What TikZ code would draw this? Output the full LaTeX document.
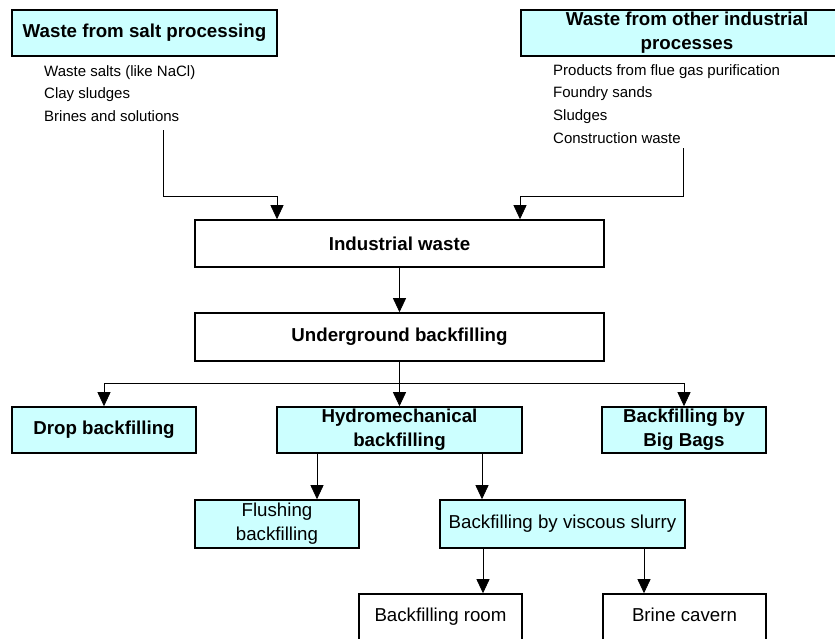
\documentclass[tikz,border=0pt]{standalone}
\usepackage{fontspec}
\setmainfont{Liberation Sans}
\usetikzlibrary{arrows.meta}

\definecolor{bleuclair}{HTML}{CCFFFF}

\begin{document}
\begin{tikzpicture}  % ------ Remblayage des déchets industriels -------
      [x=1pt, y=-1pt,
       boite/.style={draw, line width=1.6pt, inner sep=0pt, align=center,
                     font=\fontsize{18.7}{24}\selectfont},
       bleue/.style={boite, fill=bleuclair},
       gras/.style={font=\fontsize{18.7}{24}\selectfont\bfseries},
       liste/.style={anchor=north west, inner sep=0pt, align=left,
                     font=\fontsize{15}{22.7}\selectfont},
       fleche/.style={line width=.8pt, -{Triangle[width=13pt,length=14pt]}}]
    \clip (0,0) rectangle (835,638);

    % sources des déchets
    \node[bleue, gras, minimum width=265pt, minimum height=46pt] (sel) at (144.5,33) {Waste from salt processing};
    \node[bleue, gras, minimum width=332pt, minimum height=46pt] (autres) at (687,33) {Waste from other industrial\\processes};
    \node[liste] (lsel) at (44,65) {Waste salts (like NaCl)\\Clay sludges\\Brines and solutions};
    \node[liste] (lautres) at (553,64) {Products from flue gas purification\\Foundry sands\\Sludges\\Construction waste};

    % boites du schéma
    \node[boite, gras, minimum width=409pt, minimum height=47pt] (indus) at (399.5,243.5) {Industrial waste};
    \node[boite, gras, minimum width=409pt, minimum height=48pt] (souter) at (399.5,337) {Underground backfilling};
    \node[bleue, gras, minimum width=184pt, minimum height=46pt] (chute) at (104,430) {Drop backfilling};
    \node[bleue, gras, minimum width=245pt, minimum height=46pt] (hydro) at (399.5,430) {Hydromechanical\\backfilling};
    \node[bleue, gras, minimum width=164pt, minimum height=46pt] (sacs) at (684,430) {Backfilling by\\Big Bags};
    \node[bleue, minimum width=164pt, minimum height=48pt] (rincage) at (277,524) {Flushing\\backfilling};
    \node[bleue, minimum width=245pt, minimum height=48pt] (pateux) at (562.5,524) {Backfilling by viscous slurry};
    \node[boite, minimum width=163pt, minimum height=46pt, text height=13.5pt, text depth=4pt] (chambre) at (440.5,617) {Backfilling room};
    \node[boite, minimum width=163pt, minimum height=46pt, text height=13.5pt, text depth=4pt] (caverne) at (684.5,617) {Brine cavern};

    \coordinate (d1) at (163,130);  \coordinate (c1) at (277,196);
    \coordinate (d2) at (683,148);  \coordinate (c2) at (520,196);
    \coordinate (E) at (399.5,383);

    \draw[fleche] (d1) |- (c1) -- (c1 |- indus.north);
    \draw[fleche] (d2) |- (c2) -- (c2 |- indus.north);
    \draw[fleche] (indus) -- (souter);
    \draw[fleche] (souter) -- (hydro);
    \draw[fleche] (E) -| (chute.north);
    \draw[fleche] (E) -| (sacs.north);
    \draw[fleche] (hydro.south -| 317,0) -- (rincage.north -| 317,0);
    \draw[fleche] (hydro.south -| 482,0) -- (pateux.north -| 482,0);
    \draw[fleche] (pateux.south -| 483,0) -- (chambre.north -| 483,0);
    \draw[fleche] (pateux.south -| 644,0) -- (caverne.north -| 644,0);
\end{tikzpicture}
\end{document}
